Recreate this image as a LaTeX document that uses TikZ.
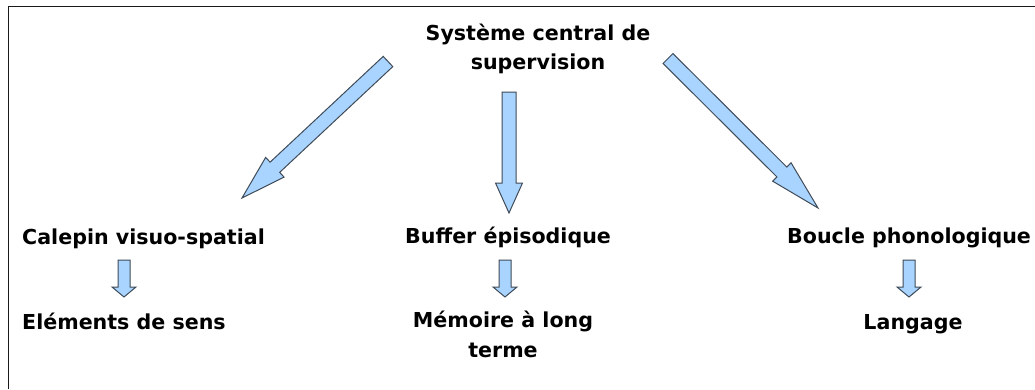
\documentclass[tikz,border=0pt]{standalone}
\usepackage{fontspec}
\setmainfont{DejaVu Sans}
\usetikzlibrary{calc}

\definecolor{arrowfill}{HTML}{A9D4FF}
\definecolor{arrowline}{HTML}{3F4B57}

% fat arrow: from, to, half shaft, half head, head length
\newcommand{\blockarrow}[5]{%
  \coordinate (#2-hb) at ($(#2)!#5!(#1)$);
  \draw[fat] ($(#1)!#3!90:(#2)$) -- ($(#2-hb)!#3!90:(#2)$) -- ($(#2-hb)!#4!90:(#2)$)
    -- (#2) -- ($(#2-hb)!#4!-90:(#2)$) -- ($(#2-hb)!#3!-90:(#2)$)
    -- ($(#1)!#3!-90:(#2)$) -- cycle;
}

\begin{document}
\begin{tikzpicture}[x=1pt, y=-1pt,
    fat/.style={draw=arrowline, fill=arrowfill, line width=1pt, line join=miter},
    lbl/.style={inner sep=0pt, font=\bfseries\fontsize{20.6}{29.5}\selectfont}]
    \useasboundingbox (0,0) rectangle (1035,389);
    \draw[line width=1.8pt, black!90] (8.5,389) -- (8.5,6.5) -- (1035,6.5);

    \node[lbl, align=center] (sup) at (538,49) {Système central de\\supervision};

    \node[lbl, anchor=base west] (cal) at (22,244) {Calepin visuo-spatial};
    \node[lbl, anchor=base west] (buf) at (405,243) {Buffer épisodique};
    \node[lbl, anchor=base west] (bou) at (787,243) {Boucle phonologique};

    \node[lbl, anchor=base west] (ele) at (22,329) {Eléments de sens};
    \node[lbl, align=center, anchor=north] (mem) at (503,311) {Mémoire à long\\terme};
    \node[lbl, anchor=base] (lan) at (913,329) {Langage};

    \coordinate (sup-cal) at (388,61.5);
    \coordinate (cal-in) at (242,198);
    \coordinate (sup-buf) at (509,92);
    \coordinate (buf-in) at (509,213);
    \coordinate (sup-bou) at (668,58.5);
    \coordinate (bou-in) at (818,208);
    \blockarrow{sup-cal}{cal-in}{7pt}{13.5pt}{45pt}
    \blockarrow{sup-buf}{buf-in}{7pt}{13.5pt}{30pt}
    \blockarrow{sup-bou}{bou-in}{7pt}{13pt}{51pt}

    \coordinate (cal-out) at (124,260);
    \coordinate (ele-in) at (124,297);
    \coordinate (buf-out) at (505,260);
    \coordinate (mem-in) at (505,297);
    \coordinate (bou-out) at (909,260);
    \coordinate (lan-in) at (909,297);
    \blockarrow{cal-out}{ele-in}{6pt}{12pt}{10pt}
    \blockarrow{buf-out}{mem-in}{6pt}{12pt}{10pt}
    \blockarrow{bou-out}{lan-in}{6pt}{12pt}{10pt}
  \end{tikzpicture}
\end{document}
